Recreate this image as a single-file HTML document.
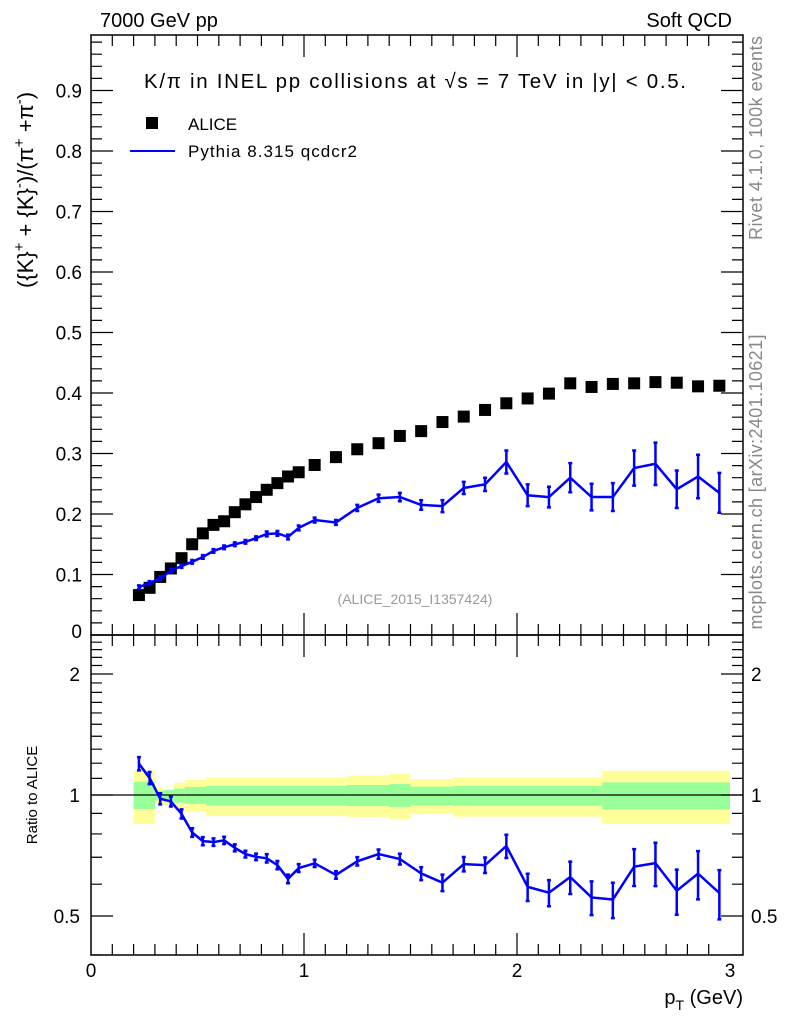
<!DOCTYPE html>
<html><head><meta charset="utf-8"><style>
body{margin:0;background:#fff}
svg{display:block;font-family:"Liberation Sans",Arial,sans-serif}
</style></head><body>
<svg id="c" width="786" height="1024" viewBox="0 0 786 1024">
<text x="100" y="27" font-size="20">7000 GeV pp</text>
<text x="732" y="27" font-size="20" text-anchor="end">Soft QCD</text>
<text x="415" y="88" font-size="20.5" text-anchor="middle" textLength="542">K/π in INEL pp collisions at √s =  7 TeV in |y| &lt; 0.5.</text>
<text x="415" y="604" font-size="14" fill="#999" text-anchor="middle">(ALICE_2015_I1357424)</text>
<text transform="translate(762,138) rotate(-90)" font-size="18" fill="#888" text-anchor="middle" textLength="204">Rivet 4.1.0,  100k events</text>
<text transform="translate(762,482) rotate(-90)" font-size="18" fill="#888" text-anchor="middle" textLength="295">mcplots.cern.ch [arXiv:2401.10621]</text>
<text transform="translate(33,190) rotate(-90)" font-size="22" text-anchor="middle">({K}<tspan dy="-9" font-size="15">+</tspan><tspan dy="9"> + {K}</tspan><tspan dy="-9" font-size="15">-</tspan><tspan dy="9">)/(π</tspan><tspan dy="-9" font-size="15">+</tspan><tspan dy="9"> +π</tspan><tspan dy="-9" font-size="15">-</tspan><tspan dy="9">)</tspan></text>
<text transform="translate(37,795) rotate(-90)" font-size="15" text-anchor="middle">Ratio to ALICE</text>
<text x="743" y="1004" font-size="20" text-anchor="end">p<tspan dy="6" font-size="14">T</tspan><tspan dy="-6"> (GeV)</tspan></text>
<g>
<rect x="146" y="117" width="12" height="12" fill="#000"/>
<text x="188" y="130" font-size="17">ALICE</text>
<line x1="130" y1="151" x2="175" y2="151" stroke="#00f" stroke-width="2"/>
<text x="188" y="157" font-size="17" textLength="169">Pythia 8.315 qcdcr2</text>
</g>
<g id="plot"></g>
</svg>
<script>
const xVals=[0.225,0.275,0.325,0.375,0.425,0.475,0.525,0.575,0.625,0.675,0.725,0.775,0.825,0.875,0.925,0.975,1.05,1.15,1.25,1.35,1.45,1.55,1.65,1.75,1.85,1.95,2.05,2.15,2.25,2.35,2.45,2.55,2.65,2.75,2.85,2.95];
const aliceVals=[0.066,0.078,0.096,0.110,0.127,0.150,0.168,0.182,0.188,0.203,0.216,0.228,0.240,0.251,0.262,0.269,0.281,0.294,0.307,0.317,0.329,0.337,0.352,0.361,0.372,0.383,0.391,0.399,0.416,0.410,0.415,0.416,0.418,0.417,0.411,0.412];
const pythiaVals=[0.079,0.086,0.094,0.106,0.114,0.121,0.129,0.139,0.145,0.150,0.154,0.160,0.167,0.168,0.162,0.177,0.190,0.186,0.210,0.226,0.228,0.215,0.213,0.243,0.249,0.286,0.231,0.228,0.260,0.228,0.228,0.276,0.283,0.241,0.262,0.235];
const pythiaErr=[0.003,0.003,0.003,0.003,0.003,0.003,0.003,0.003,0.003,0.003,0.003,0.003,0.004,0.004,0.004,0.004,0.004,0.004,0.005,0.006,0.007,0.008,0.010,0.010,0.011,0.019,0.018,0.017,0.024,0.022,0.023,0.029,0.035,0.031,0.036,0.033];
const bandLo=[0.2,0.3,0.34,0.39,0.44,0.54,1.2,1.4,1.5,1.7,2.4];
const bandHi=[0.3,0.34,0.39,0.44,0.54,1.2,1.4,1.5,1.7,2.4,3.0];
const yellowUp=[1.149,1.043,1.033,1.073,1.090,1.107,1.117,1.128,1.096,1.107,1.149];
const yellowDn=[0.847,0.953,0.944,0.927,0.911,0.888,0.882,0.871,0.897,0.883,0.847];
const greenUp=[1.079,1.023,1.029,1.037,1.047,1.053,1.059,1.065,1.049,1.053,1.075];
const greenDn=[0.923,0.970,0.963,0.957,0.950,0.942,0.939,0.934,0.944,0.941,0.921];
const yTicks=[0.1,0.2,0.3,0.4,0.5,0.6,0.7,0.8,0.9];
const rTicks=[0.5,1,2];

const NS='http://www.w3.org/2000/svg';
const g=document.getElementById('plot');
const L=91,R=743,T=35,M=635,B=955;
const X=v=>L+v*213;
const Y=v=>M-v*605;
const RY=v=>795-Math.log2(v)*121;
function mk(t,a,name,p){const e=document.createElementNS(NS,t);for(const k in a)e.setAttribute(k,a[k]);


(p||g).appendChild(e);return e;}
for(let i=0;i<bandLo.length;i++){
 mk('rect',{x:X(bandLo[i]),y:RY(yellowUp[i]),width:X(bandHi[i])-X(bandLo[i]),height:RY(yellowDn[i])-RY(yellowUp[i]),fill:'#ffff99'},'ratio-band-total');
}
for(let i=0;i<bandLo.length;i++){
 mk('rect',{x:X(bandLo[i]),y:RY(greenUp[i]),width:X(bandHi[i])-X(bandLo[i]),height:RY(greenDn[i])-RY(greenUp[i]),fill:'#99ff99'},'ratio-band-stat');
}
mk('line',{x1:L,y1:RY(1),x2:R,y2:RY(1),stroke:'#000','stroke-width':1.3},'ratio-unity-line');
xVals.forEach((x,i)=>{mk('rect',{x:X(x)-6,y:Y(aliceVals[i])-6,width:12,height:12,fill:'#000'},'alice-point');});
let pts=xVals.map((x,i)=>X(x)+','+Y(pythiaVals[i])).join(' ');
mk('polyline',{points:pts,fill:'none',stroke:'#00f','stroke-width':2.5},'pythia-line');
function ebar(x,y1,y2,name){mk('path',{d:`M${x},${y1}V${y2}M${x-2},${y1}h4M${x-2},${y2}h4`,stroke:'#00f','stroke-width':2.5,fill:'none'},name);}
xVals.forEach((x,i)=>ebar(X(x),Y(pythiaVals[i]+pythiaErr[i]),Y(pythiaVals[i]-pythiaErr[i]),'pythia-error-bar'));
const ratio=xVals.map((x,i)=>pythiaVals[i]/aliceVals[i]);
pts=xVals.map((x,i)=>X(x)+','+RY(ratio[i])).join(' ');
mk('polyline',{points:pts,fill:'none',stroke:'#00f','stroke-width':2.5},'ratio-line');
xVals.forEach((x,i)=>{const e=pythiaErr[i]/aliceVals[i];ebar(X(x),RY(ratio[i]+e),RY(ratio[i]-e),'ratio-error-bar');});
mk('rect',{x:L,y:T,width:R-L,height:M-T,fill:'none',stroke:'#000','stroke-width':1.5},'main-frame');
mk('rect',{x:L,y:M,width:R-L,height:B-M,fill:'none',stroke:'#000','stroke-width':1.5},'ratio-frame');
let d='';
for(let k=1;k<=49;k++){const v=k*0.02,y=Y(v);if(y<T)break;const len=(k%5==0)?22:11;d+=`M${L},${y}h${len}M${R},${y}h${-len}`;}
for(let k=1;k<=24;k++){const v=k*0.1;const y=RY(v);if(y>B||y<M)continue;const len=(k==5||k==10||k==20)?22:11;d+=`M${L},${y}h${len}M${R},${y}h${-len}`;}
for(let k=1;k<30;k++){const x=X(k*0.1);const len=(k%10==0)?22:11;d+=`M${x},${M}v${-len}M${x},${T}v${len}M${x},${B}v${-len}M${x},${M}v${len}`;}
mk('path',{d:d,stroke:'#000','stroke-width':1.2,fill:'none'},'axis-ticks');
yTicks.forEach(v=>{const t=mk('text',{x:82,y:Y(v)+7,'font-size':19,'text-anchor':'end'},'y-tick-label');t.textContent=v.toFixed(1);});
const z=mk('text',{x:82,y:Y(0)+3,'font-size':19,'text-anchor':'end'},'y-tick-label');z.textContent='0';
rTicks.forEach(v=>{let t=mk('text',{x:80,y:RY(v)+7,'font-size':19,'text-anchor':'end'},'ratio-tick-label');t.textContent=String(v);
t=mk('text',{x:751,y:RY(v)+7,'font-size':19},'ratio-tick-label-right');t.textContent=String(v);});
[0,1,2,3].forEach(v=>{const t=mk('text',{x:X(v),y:977,'font-size':19,'text-anchor':'middle'},'x-tick-label');t.textContent=String(v);});
</script>
</body></html>
